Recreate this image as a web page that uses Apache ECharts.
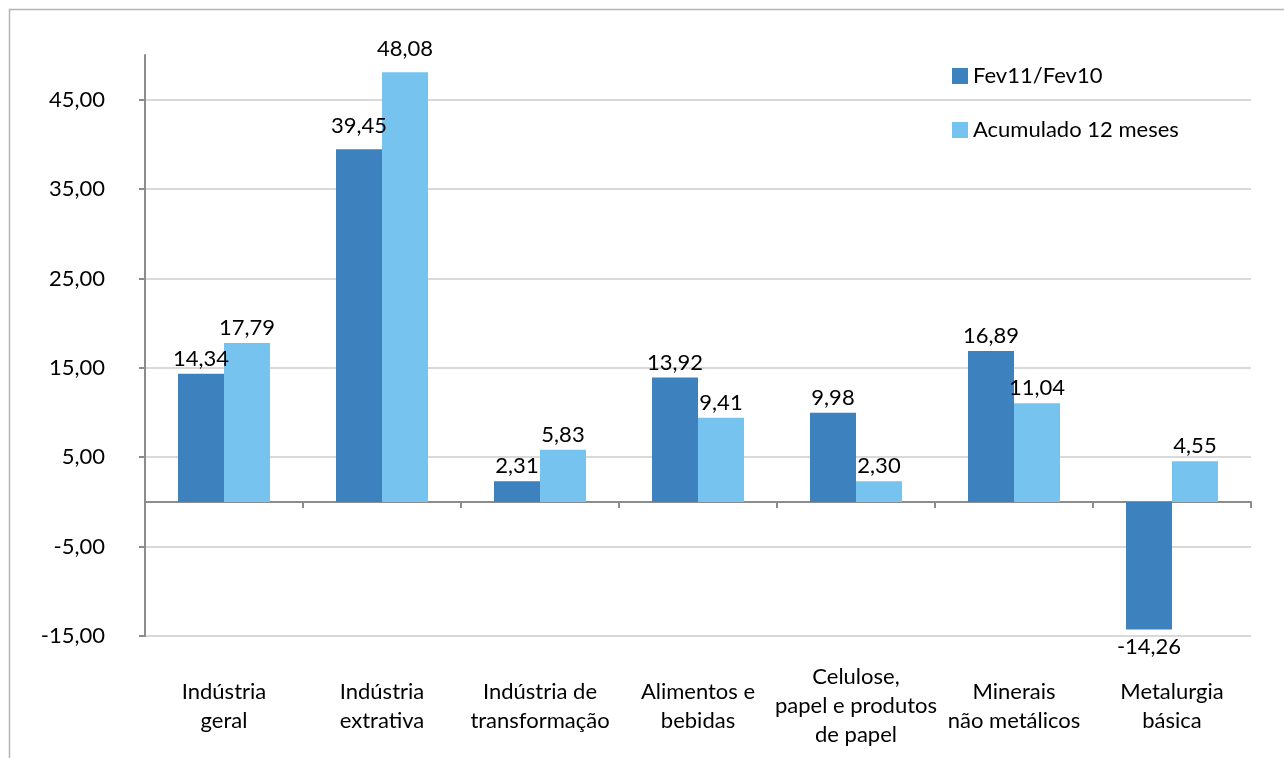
<!DOCTYPE html>
<html>
<head>
<meta charset="utf-8">
<style>
html,body{margin:0;padding:0;background:#fff;}
#chart{width:1284px;height:758px;}
</style>
<script src="https://cdn.jsdelivr.net/npm/echarts@6/dist/echarts.min.js"></script>
</head>
<body>
<div id="chart"></div>
<script>
const categories = [
  'Indústria\ngeral',
  'Indústria\nextrativa',
  'Indústria de\ntransformação',
  'Alimentos e\nbebidas',
  'Celulose,\npapel e produtos\nde papel',
  'Minerais\nnão metálicos',
  'Metalurgia\nbásica'
];
const seriesNames = ['Fev11/Fev10', 'Acumulado 12 meses'];
const fevValues = [14.34, 39.45, 2.31, 13.92, 9.98, 16.89, -14.26];
const acumValues = [17.79, 48.08, 5.83, 9.41, 2.30, 11.04, 4.55];

const FONT = 'Lato';
const FS = 22;
const fmt = v => v.toFixed(2).replace('.', ',');

function toData(arr) {
  return arr.map((v, i) => {
    if (v < 0) return { value: v, label: { position: 'bottom', distance: 7 } };
    if (i === 1) return { value: v, label: { distance: 12 } };
    return v;
  });
}

const chart = echarts.init(document.getElementById('chart'));
chart.setOption({
  animation: false,
  backgroundColor: '#fff',
  textStyle: { fontFamily: FONT },
  graphic: [{
    type: 'rect',
    shape: { x: 9.5, y: 9.5, width: 1400, height: 900 },
    style: { fill: 'none', stroke: '#b4b4b4', lineWidth: 1.5 },
    silent: true, z: -10
  }],
  legend: {
    orient: 'vertical',
    left: 947,
    top: 60,
    icon: 'rect',
    itemWidth: 16,
    itemHeight: 16,
    itemGap: 32,
    textStyle: { fontFamily: FONT, fontSize: FS, color: '#000', lineHeight: 16, padding: [0, 0, 0, 0] },
    data: seriesNames
  },
  grid: { left: 145, right: 33, top: 55, bottom: 122, containLabel: false },
  xAxis: [{
    type: 'category',
    data: categories,
    position: 'bottom',
    axisLine: { onZero: true, lineStyle: { color: '#8c8c8c', width: 2 } },
    axisTick: { show: true, length: 6, lineStyle: { color: '#8c8c8c', width: 2 } },
    axisLabel: { show: false }
  }, {
    type: 'category',
    data: categories,
    position: 'bottom',
    axisLine: { show: false, onZero: false },
    axisTick: { show: false },
    axisLabel: {
      fontFamily: FONT, fontSize: FS, color: '#000', lineHeight: 29,
      margin: 70, verticalAlign: 'middle', align: 'center', interval: 0
    }
  }],
  yAxis: {
    type: 'value',
    min: -15,
    max: 50,
    interval: 10,
    axisLine: { show: true, lineStyle: { color: '#8c8c8c', width: 2 } },
    axisTick: { show: true, length: 6, lineStyle: { color: '#8c8c8c', width: 2 } },
    axisLabel: {
      fontFamily: FONT, fontSize: FS, color: '#000', margin: 40,
      showMaxLabel: false,
      formatter: v => (v === 50 ? '' : fmt(v))
    },
    splitLine: {
      show: true,
      lineStyle: { color: ['#d9d9d9','#d9d9d9','#d9d9d9','#d9d9d9','#d9d9d9','#d9d9d9','#d9d9d9','rgba(0,0,0,0)'], width: 2 }
    }
  },
  series: [{
    name: seriesNames[0],
    type: 'bar',
    xAxisIndex: 0,
    data: toData(fevValues),
    barWidth: 46,
    barGap: '0%',
    itemStyle: { color: '#3d81be' },
    label: {
      show: true, position: 'top', distance: 4,
      fontFamily: FONT, fontSize: FS, color: '#000',
      formatter: p => fmt(p.value)
    }
  }, {
    name: seriesNames[1],
    type: 'bar',
    xAxisIndex: 0,
    data: toData(acumValues),
    barWidth: 46,
    barGap: '0%',
    itemStyle: { color: '#76c3ef' },
    label: {
      show: true, position: 'top', distance: 4,
      fontFamily: FONT, fontSize: FS, color: '#000',
      formatter: p => fmt(p.value)
    }
  }]
});
</script>
</body>
</html>
